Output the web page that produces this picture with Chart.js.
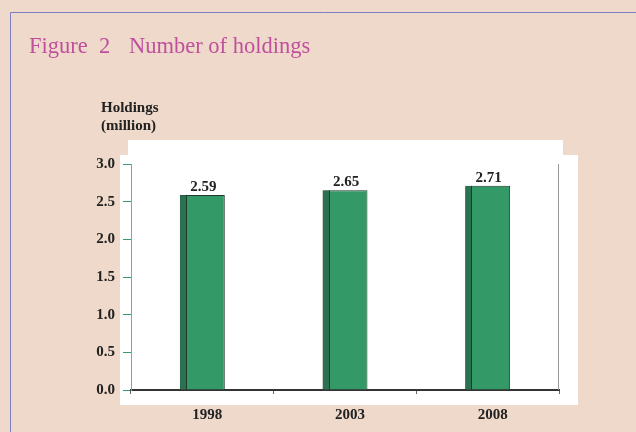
<!DOCTYPE html>
<html><head><meta charset="utf-8">
<script src="https://cdn.jsdelivr.net/npm/chart.js@4/dist/chart.umd.min.js"></script>
<style>html,body{margin:0;padding:0;background:#EFD9CA;}canvas{display:block;}</style>
</head><body>
<canvas id="c" width="636" height="432"></canvas>
<script>
const categories = ['1998', '2003', '2008'];
const holdings = [2.59, 2.65, 2.71];
const yMin = 0, yMax = 3, yStep = 0.5;
const titleParts = ['Figure', '2', 'Number of holdings'];
const yTitleLines = ['Holdings', '(million)'];

const SERIF = '"Liberation Serif", "Times New Roman", serif';

const decor = {
  id: 'decor',
  beforeDraw(chart) {
    const ctx = chart.ctx;
    ctx.save();
    ctx.fillStyle = '#EFD9CA';
    ctx.fillRect(0, 0, chart.width, chart.height);
    // frame
    ctx.strokeStyle = '#7C80C2';
    ctx.lineWidth = 1;
    ctx.beginPath();
    ctx.moveTo(10.5, 432);
    ctx.lineTo(10.5, 12.5);
    ctx.lineTo(636, 12.5);
    ctx.stroke();
    // white plot panels
    ctx.fillStyle = '#FFFFFF';
    ctx.fillRect(128, 140, 435, 16);
    ctx.fillRect(120, 155, 458, 250);
    // title
    ctx.fillStyle = '#C0509E';
    ctx.font = '22.5px ' + SERIF;
    ctx.textBaseline = 'alphabetic';
    ctx.textAlign = 'left';
    ctx.fillText(titleParts[0], 29, 53);
    ctx.fillText(titleParts[1], 99, 53);
    ctx.fillText(titleParts[2], 129, 53);
    // y axis title
    ctx.fillStyle = '#222222';
    ctx.font = 'bold 15px ' + SERIF;
    ctx.fillText(yTitleLines[0], 101, 112);
    ctx.fillText(yTitleLines[1], 101, 130);
    ctx.restore();
  },
  afterDatasetsDraw(chart) {
    const ctx = chart.ctx;
    const meta = chart.getDatasetMeta(0);
    ctx.save();
    meta.data.forEach((bar, i) => {
      const left = bar.x - bar.width / 2;
      // dark side strip
      ctx.fillStyle = '#2A7250';
      ctx.fillRect(left + 0.5, bar.y + 0.5, 6, bar.base - bar.y - 1);
      ctx.strokeStyle = '#1E3A2C';
      ctx.lineWidth = 1;
      ctx.beginPath();
      ctx.moveTo(Math.round(left) + 6.5, bar.y);
      ctx.lineTo(Math.round(left) + 6.5, bar.base);
      ctx.stroke();
      // value label
      ctx.fillStyle = '#222222';
      ctx.font = 'bold 15px ' + SERIF;
      ctx.textAlign = 'center';
      ctx.textBaseline = 'alphabetic';
      ctx.fillText(holdings[i].toFixed(2), bar.x + 1, bar.y - 4);
    });
    // right frame line of plot
    const a = chart.chartArea;
    ctx.strokeStyle = '#999999';
    ctx.beginPath();
    ctx.moveTo(Math.round(a.right) - 0.5, a.top);
    ctx.lineTo(Math.round(a.right) - 0.5, a.bottom);
    ctx.stroke();
    ctx.restore();
  }
};

new Chart(document.getElementById('c'), {
  type: 'bar',
  data: {
    labels: categories,
    datasets: [{
      data: holdings,
      backgroundColor: '#339966',
      borderColor: '#1E3A2C',
      borderWidth: 1,
      barPercentage: 0.315,
      categoryPercentage: 1.0
    }]
  },
  options: {
    responsive: false,
    animation: false,
    devicePixelRatio: 1,
    layout: { padding: { left: 0, top: 164, right: 77, bottom: 0 } },
    plugins: { legend: { display: false }, tooltip: { enabled: false }, title: { display: false } },
    scales: {
      x: {
        type: 'category',
        offset: true,
        grid: { display: true, drawOnChartArea: false, tickLength: 4, color: '#666666', offset: true },
        border: { display: true, color: '#333333', width: 2 },
        ticks: {
          font: { family: SERIF, size: 15, weight: 'bold' },
          color: '#222222',
          padding: 12,
          labelOffset: 5
        },
        afterFit(scale) { scale.height = 42; }
      },
      y: {
        min: yMin, max: yMax,
        ticks: {
          stepSize: yStep,
          font: { family: SERIF, size: 15, weight: 'bold' },
          color: '#222222',
          padding: 8,
          callback: v => v.toFixed(1)
        },
        grid: { display: true, drawOnChartArea: false, tickLength: 8, color: '#3A9A6A' },
        border: { display: true, color: '#999999', width: 1 },
        afterFit(scale) { scale.width = 131; }
      }
    }
  },
  plugins: [decor]
});
</script>
</body></html>
